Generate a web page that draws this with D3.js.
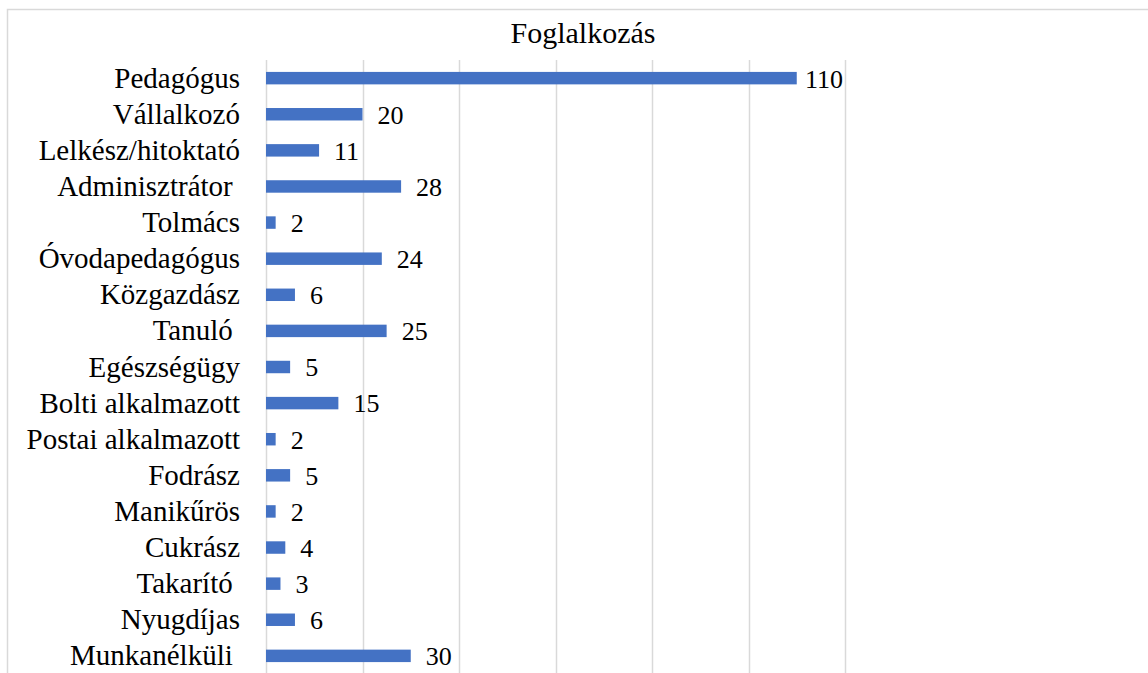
<!DOCTYPE html>
<html>
<head>
<meta charset="utf-8">
<script src="https://cdn.jsdelivr.net/npm/d3@7"></script>
<style>
  body { margin: 0; background: #fff; }
</style>
</head>
<body>
<div id="chart"></div>
<script>
var width = 1148,
  height = 673;

// chart data
var title = "Foglalkozás";
var categories = ["Pedagógus", "Vállalkozó", "Lelkész/hitoktató", "Adminisztrátor ", "Tolmács",
  "Óvodapedagógus", "Közgazdász", "Tanuló ", "Egészségügy", "Bolti alkalmazott",
  "Postai alkalmazott", "Fodrász", "Manikűrös", "Cukrász", "Takarító ", "Nyugdíjas", "Munkanélküli "];
var values = [110, 20, 11, 28, 2, 24, 6, 25, 5, 15, 2, 5, 2, 4, 3, 6, 30];
var gridTicks = [0, 20, 40, 60, 80, 100, 120];

var serif = "'Liberation Serif', 'Times New Roman', Times, 'DejaVu Serif', serif";

var svg = d3.select("#chart").append("svg")
  .attr("width", width)
  .attr("height", height)
  .attr("font-family", serif);

// chart frame (cut off on the right and bottom like the original)
svg.append("rect")
  .attr("x", 7.5).attr("y", 9.5)
  .attr("width", 1300).attr("height", 800)
  .attr("fill", "none")
  .attr("stroke", "#d9d9d9")
  .attr("stroke-width", 1.5);

var plot = { left: 266, right: 845, top: 60, bottom: 674 };

var x = d3.scaleLinear()
  .domain([0, 120])
  .range([plot.left, plot.right]);

var y = d3.scaleBand()
  .domain(categories)
  .range([plot.top, plot.bottom])
  .paddingInner(0.655)
  .paddingOuter(0.33);

// vertical gridlines
svg.append("g").selectAll("line")
  .data(gridTicks)
  .enter().append("line")
  .attr("x1", function(d) { return Math.round(x(d)) + 0.5; })
  .attr("x2", function(d) { return Math.round(x(d)) + 0.5; })
  .attr("y1", plot.top)
  .attr("y2", plot.bottom)
  .attr("stroke", "#d9d9d9")
  .attr("stroke-width", 1.5);

// title
svg.append("text")
  .attr("x", 583)
  .attr("y", 43)
  .attr("text-anchor", "middle")
  .attr("font-family", serif)
  .style("font-size", "30px")
  .text(title);

// bars
svg.append("g").selectAll("rect")
  .data(values)
  .enter().append("rect")
  .attr("x", x(0))
  .attr("y", function(d, i) { return y(categories[i]); })
  .attr("width", function(d) { return x(d) - x(0); })
  .attr("height", y.bandwidth())
  .attr("fill", "#4472c4");

// category labels
svg.append("g").selectAll("text")
  .data(categories)
  .enter().append("text")
  .attr("x", 240)
  .attr("y", function(d) { return y(d) + y.bandwidth() / 2; })
  .attr("dy", "0.33em")
  .attr("text-anchor", "end")
  .attr("font-family", serif)
  .style("font-size", "29px")
  .style("white-space", "pre")
  .text(function(d) { return d; });

// value labels, kept inside the plot area
var labels = svg.append("g").selectAll("text")
  .data(values)
  .enter().append("text")
  .attr("y", function(d, i) { return y(categories[i]) + y.bandwidth() / 2; })
  .attr("dy", "0.36em")
  .attr("font-family", serif)
  .style("font-size", "26px")
  .text(function(d) { return d; });

labels.attr("x", function(d) {
  var w = this.getComputedTextLength();
  return Math.min(x(d) + 15, plot.right - w - 2);
});
</script>
</body>
</html>
